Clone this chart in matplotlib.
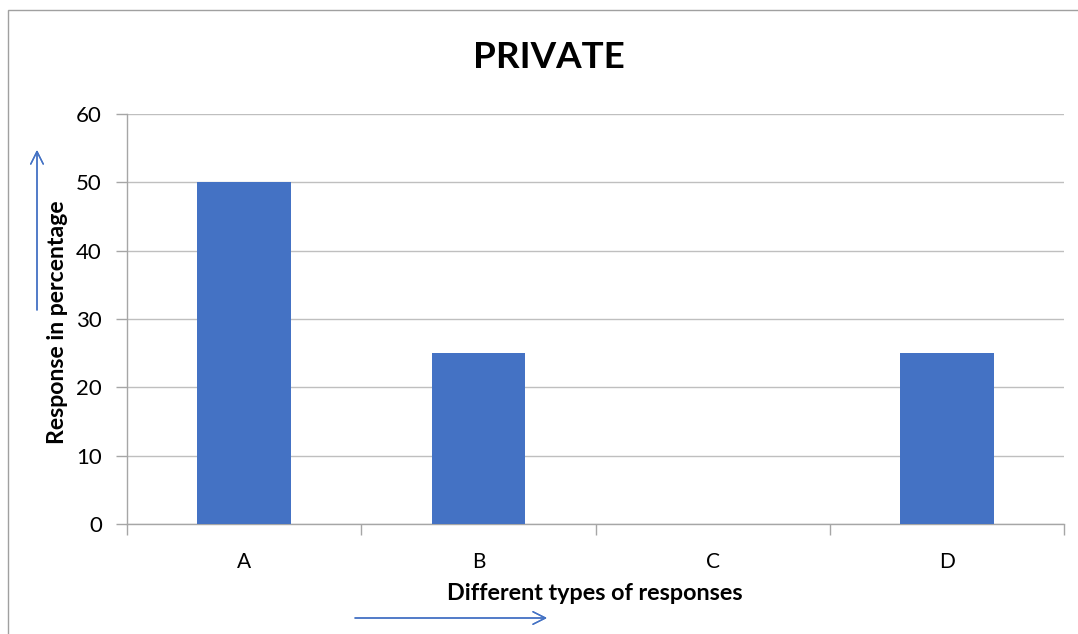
import matplotlib
matplotlib.use("Agg")
import matplotlib.pyplot as plt
from matplotlib.patches import Rectangle
import numpy as np

categories = ["A", "B", "C", "D"]
responses = [50, 25, 0, 25]
y_ticks = [0, 10, 20, 30, 40, 50, 60]

title = "PRIVATE"
x_label = "Different types of responses"
y_label = "Response in percentage"

BAR = "#4472C4"
GRID = "#bfbfbf"
AXIS = "#a6a6a6"

plt.rcParams["font.family"] = ["Lato", "DejaVu Sans"]

W, H = 1078, 634
fig = plt.figure(figsize=(W / 100, H / 100), dpi=100)
fig.patch.set_facecolor("white")

# outer chart frame (open to the right and bottom)
fig.add_artist(Rectangle((8 / W, -0.05), 1.1, 1.05 - 10 / H,
                         transform=fig.transFigure, fill=False,
                         edgecolor="#a0a0a0", linewidth=1.0))

ax = fig.add_axes([127 / W, 1 - 524 / H, (1064 - 127) / W, (524 - 114) / H])
x = np.arange(len(categories))
ax.bar(x, responses, width=0.4, color=BAR, zorder=3)

ax.set_xlim(-0.5, len(categories) - 0.5)
ax.set_ylim(0, 60)
ax.set_yticks(y_ticks)
ax.set_yticklabels([str(v) for v in y_ticks], fontsize=16)
ax.yaxis.grid(True, color=GRID, linewidth=1.0, zorder=0)

ax.set_xticks(x)
ax.set_xticklabels(categories, fontsize=15)
ax.set_xticks(np.arange(-0.5, len(categories), 1.0), minor=True)
ax.tick_params(axis="x", which="major", length=0, pad=20)
ax.tick_params(axis="x", which="minor", length=8, color=AXIS, width=1.0)
ax.tick_params(axis="y", length=8, color=AXIS, width=1.0, pad=10)

for side in ("top", "right"):
    ax.spines[side].set_visible(False)
for side in ("left", "bottom"):
    ax.spines[side].set_color(AXIS)
    ax.spines[side].set_linewidth(1.0)

fig.text(549 / W, 1 - 57 / H, title, fontsize=26.5, fontweight="bold",
         ha="center", va="center")
fig.text(595 / W, 1 - 594 / H, x_label, fontsize=16.8, fontweight="bold",
         ha="center", va="center")
fig.text(58 / W, 1 - 322 / H, y_label, fontsize=16.6, fontweight="bold",
         ha="center", va="center", rotation=90)

# direction arrows beside the axis titles
arrow = dict(arrowstyle="->,head_length=0.9,head_width=0.45",
             color=BAR, linewidth=1.0, shrinkA=0, shrinkB=0)
fig.add_artist(plt.annotate("", xy=(37 / W, 1 - 150 / H), xytext=(37 / W, 1 - 310 / H),
                            xycoords="figure fraction", textcoords="figure fraction",
                            arrowprops=arrow))
fig.add_artist(plt.annotate("", xy=(547 / W, 1 - 618 / H), xytext=(355 / W, 1 - 618 / H),
                            xycoords="figure fraction", textcoords="figure fraction",
                            arrowprops=arrow))

fig.savefig("out.png", dpi=100)
